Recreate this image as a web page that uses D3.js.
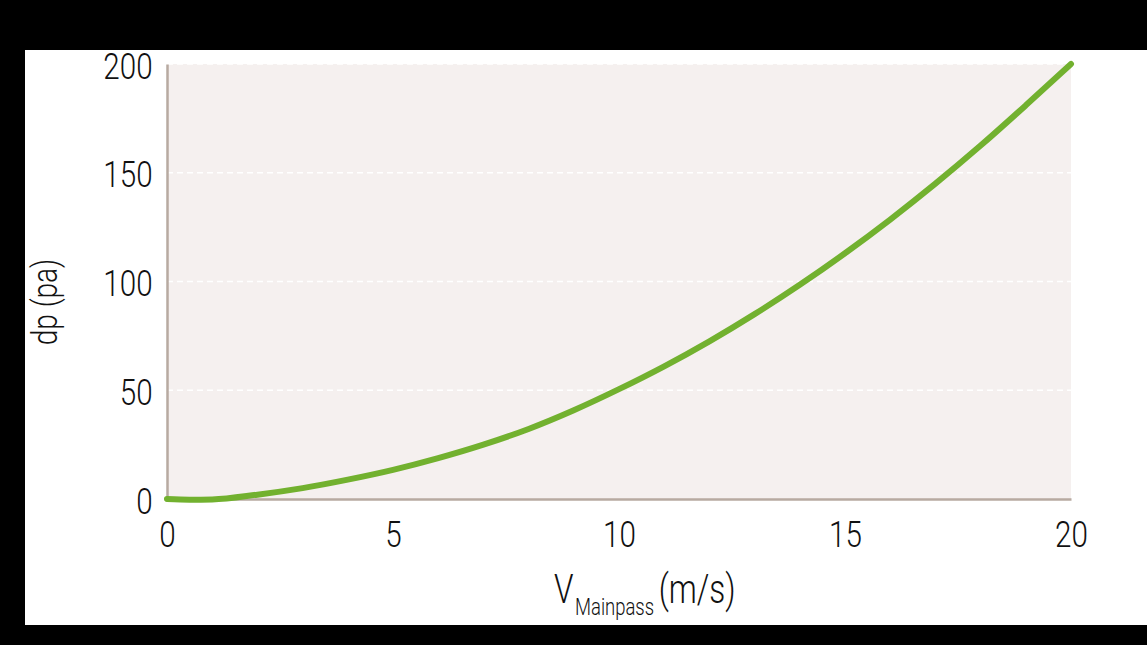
<!DOCTYPE html>
<html>
<head>
<meta charset="utf-8">
<script src="https://cdn.jsdelivr.net/npm/d3@7"></script>
<style>
  html, body { margin: 0; padding: 0; background: #000; }
  svg { display: block; }
  text { font-family: Roboto, 'Liberation Sans', sans-serif; font-weight: 300; fill: #111; }
</style>
</head>
<body>
<svg id="chart" width="1147" height="645"></svg>
<script>
// Data
const velocity = [0, 0.5, 1, 2, 3, 4, 5, 6, 7, 8, 9, 10, 11, 12, 13, 14, 15, 16, 17, 18, 19, 20];
const pressure = [0, -0.3, -0.2, 2.0, 5.0, 8.9, 13.4, 18.8, 25, 32.2, 40.8, 50.5, 61, 72.5, 85, 98.5, 113, 128.5, 145, 162.5, 181, 200];
const xTicks = [0, 5, 10, 15, 20];
const yTicks = [0, 50, 100, 150, 200];
const yTitle = "dp (pa)";
const xTitleMain = "V";
const xTitleSub = "Mainpass";
const xTitleUnit = "(m/s)";

const svg = d3.select("#chart");
const W = 1147, H = 645;
const SX = 0.8; // horizontal condensing of the light condensed typeface

svg.append("rect").attr("x", 0).attr("y", 0).attr("width", W).attr("height", H).attr("fill", "#000");
svg.append("rect").attr("x", 25).attr("y", 50).attr("width", W - 25).attr("height", 575).attr("fill", "#fff");

const plot = { left: 167, right: 1071, top: 64, bottom: 499 };
const x = d3.scaleLinear().domain([0, 20]).range([plot.left, plot.right]);
const y = d3.scaleLinear().domain([0, 200]).range([plot.bottom, plot.top]);

svg.append("rect")
  .attr("x", plot.left).attr("y", plot.top)
  .attr("width", plot.right - plot.left).attr("height", plot.bottom - plot.top)
  .attr("fill", "#f5f0ef");

svg.append("g").selectAll("line")
  .data(yTicks.filter(d => d > 0))
  .join("line")
  .attr("x1", plot.left).attr("x2", plot.right)
  .attr("y1", d => y(d)).attr("y2", d => y(d))
  .attr("stroke", "#ffffff").attr("stroke-width", 1.5)
  .attr("stroke-dasharray", "6,4");

const xAxis = svg.append("g")
  .attr("transform", `translate(0,${plot.bottom})`)
  .call(d3.axisBottom(x).tickValues(xTicks).tickSize(0).tickPadding(22).tickFormat(d3.format("d")));
xAxis.select(".domain").attr("stroke", "#b7aaa1").attr("stroke-width", 2.5);
xAxis.selectAll("text").attr("font-size", 37).attr("fill", "#111")
  .attr("transform", `scale(${SX},1)`)
  .style("font-family", "Roboto, 'Liberation Sans', sans-serif").style("font-weight", 300);

const yAxis = svg.append("g")
  .attr("transform", `translate(${plot.left},0)`)
  .call(d3.axisLeft(y).tickValues(yTicks).tickSize(0).tickPadding(18).tickFormat(d3.format("d")));
yAxis.select(".domain").attr("stroke", "#b7aaa1").attr("stroke-width", 2.5);
yAxis.selectAll("text").attr("font-size", 37).attr("fill", "#111").attr("dy", "0.38em")
  .attr("transform", `scale(${SX},1)`)
  .style("font-family", "Roboto, 'Liberation Sans', sans-serif").style("font-weight", 300);

const pts = velocity.map((v, i) => [v, pressure[i]]);
const line = d3.line().x(d => x(d[0])).y(d => y(d[1])).curve(d3.curveMonotoneX);
svg.append("path")
  .datum(pts)
  .attr("d", line)
  .attr("fill", "none")
  .attr("stroke", "#72b12f")
  .attr("stroke-width", 6)
  .attr("stroke-linecap", "round")
  .attr("stroke-linejoin", "round");

svg.append("text")
  .attr("transform", `translate(57,302) rotate(-90) scale(${SX},1)`)
  .attr("text-anchor", "middle")
  .attr("font-size", 35)
  .text(yTitle);

const xt = svg.append("text")
  .attr("transform", `translate(554,603) scale(0.77,1)`)
  .attr("font-size", 41);
xt.append("tspan").text(xTitleMain);
xt.append("tspan").attr("font-size", 24).attr("dy", 12).attr("dx", 2).text(xTitleSub);
xt.append("tspan").attr("dy", -12).attr("dx", 6).text(xTitleUnit);
</script>
</body>
</html>
